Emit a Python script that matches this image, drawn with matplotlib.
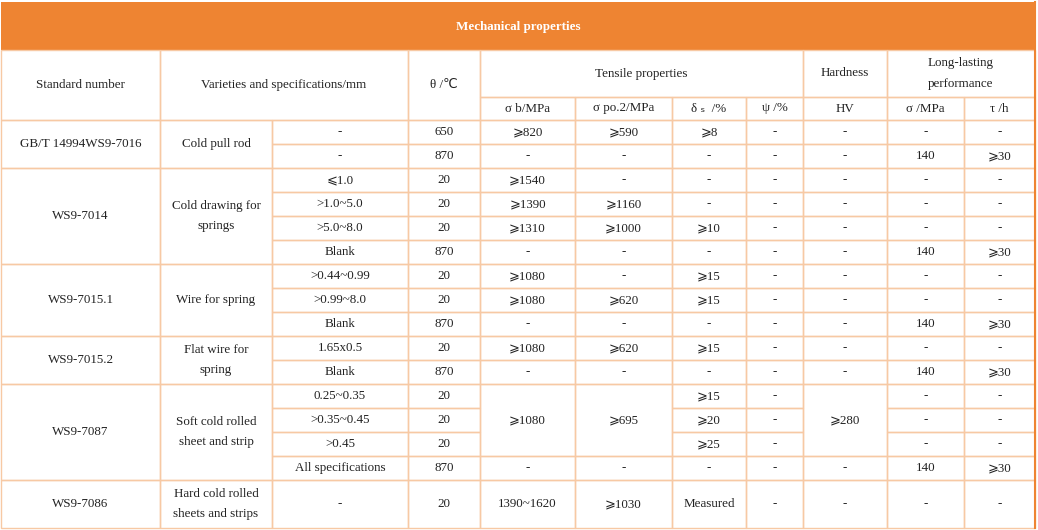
import matplotlib
matplotlib.use("Agg")
import matplotlib.pyplot as plt
from matplotlib.patches import Rectangle

title = "Mechanical properties"
standards = ["GB/T 14994WS9-7016", "WS9-7014", "WS9-7015.1", "WS9-7015.2", "WS9-7087", "WS9-7086"]
group_spans = [2, 4, 3, 2, 4, 1]
varieties = ["Cold pull rod", "Cold drawing for\nsprings", "Wire for spring", "Flat wire for\nspring",
             "Soft cold rolled\nsheet and strip", "Hard cold rolled\nsheets and strips"]
specs = ["-", "-", "⩽1.0", ">1.0~5.0", ">5.0~8.0", "Blank", ">0.44~0.99", ">0.99~8.0", "Blank",
         "1.65x0.5", "Blank", "0.25~0.35", ">0.35~0.45", ">0.45", "All specifications", "-"]
theta = ["650", "870", "20", "20", "20", "870", "20", "20", "870", "20", "870", "20", "20", "20", "870", "20"]
# None = merged with the cell above
sigma_b = ["⩾820", "-", "⩾1540", "⩾1390", "⩾1310", "-", "⩾1080", "⩾1080", "-", "⩾1080", "-",
           "⩾1080", None, None, "-", "1390~1620"]
sigma_p = ["⩾590", "-", "-", "⩾1160", "⩾1000", "-", "-", "⩾620", "-", "⩾620", "-",
           "⩾695", None, None, "-", "⩾1030"]
delta_s = ["⩾8", "-", "-", "-", "⩾10", "-", "⩾15", "⩾15", "-", "⩾15", "-", "⩾15", "⩾20", "⩾25", "-", "Measured"]
psi = ["-"] * 16
hv = ["-"] * 11 + ["⩾280", None, None, "-", "-"]
sigma_l = ["-", "140", "-", "-", "-", "140", "-", "-", "140", "-", "140", "-", "-", "-", "140", "-"]
tau = ["-", "⩾30", "-", "-", "-", "⩾30", "-", "-", "⩾30", "-", "⩾30", "-", "-", "-", "⩾30", "-"]

W, H = 1038, 530
X = [1, 160, 272, 408, 480, 575, 672, 746, 803, 887, 964, 1035]
Y = [120 + 24 * i for i in range(16)] + [528]
ORANGE = "#EE8432"
LINE = "#F7C9A4"
TXT = "#222222"
FONT = ["Liberation Serif", "DejaVu Sans"]
FS = 9.4

fig = plt.figure(figsize=(W / 100, H / 100), dpi=100)
ax = fig.add_axes([0, 0, 1, 1])
ax.set_xlim(0, W)
ax.set_ylim(H, 0)
ax.axis("off")

def cell(x0, x1, y0, y1, text, color=TXT, weight="normal", ls=1.0):
    ax.add_patch(Rectangle((x0, y0), x1 - x0, y1 - y0, fill=False, ec=LINE, lw=1))
    if text:
        ax.text((x0 + x1) / 2, (y0 + y1) / 2, text, ha="center", va="center", fontsize=FS,
                family=FONT, color=color, weight=weight, linespacing=1.9 * ls)

ax.add_patch(Rectangle((X[0], 2), X[-1] - X[0], 48, color=ORANGE, lw=0))
ax.text((X[0] + X[-1]) / 2, 27, title, ha="center", va="center", fontsize=FS, family=FONT,
        color="white", weight="bold")

cell(X[0], X[1], 50, 120, "Standard number")
cell(X[1], X[3], 50, 120, "Varieties and specifications/mm")
cell(X[3], X[4], 50, 120, "θ /℃")
cell(X[4], X[8], 50, 97, "Tensile properties")
cell(X[8], X[9], 50, 97, "Hardness")
cell(X[9], X[11], 50, 97, "Long-lasting\nperformance")
for i, t in enumerate(["σ b/MPa", "σ po.2/MPa", "δ ₛ  /%", "ψ /%", "HV", "σ /MPa", "τ /h"]):
    cell(X[4 + i], X[5 + i], 97, 120, t)

r = 0
for s, v, n in zip(standards, varieties, group_spans):
    cell(X[0], X[1], Y[r], Y[r + n], s)
    cell(X[1], X[2], Y[r], Y[r + n], v)
    r += n

def column(ci, values):
    i = 0
    while i < len(values):
        j = i + 1
        while j < len(values) and values[j] is None:
            j += 1
        cell(X[ci], X[ci + 1], Y[i], Y[j], values[i])
        i = j

for ci, vals in enumerate([specs, theta, sigma_b, sigma_p, delta_s, psi, hv, sigma_l, tau], start=2):
    column(ci, vals)

ax.plot([X[-1], X[-1]], [2, Y[-1]], color=ORANGE, lw=1.5)
fig.savefig("out.png", dpi=100)
